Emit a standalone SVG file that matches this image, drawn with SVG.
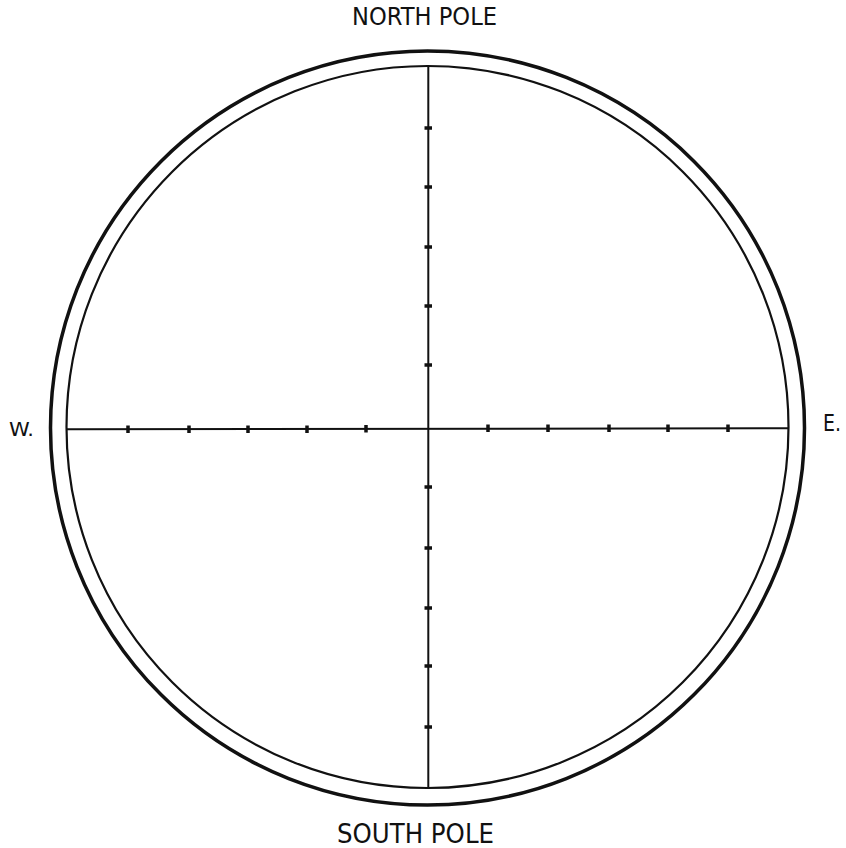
<svg xmlns="http://www.w3.org/2000/svg" width="846" height="848" viewBox="0 0 846 848">
<style>
.ring{fill:none;stroke:#111;}
.axis{stroke:#111;stroke-width:2;fill:none;}
.tick{stroke:#111;stroke-width:3.5;stroke-linecap:butt;}
.lbl{font-family:"DejaVu Sans","Liberation Sans",sans-serif;fill:#111;}
</style>
<rect width="846" height="848" fill="#fff"/>
<g id="outer-circle"><circle class="ring" cx="427.5" cy="428" r="377" stroke-width="3.5"/></g>
<g id="inner-circle"><circle class="ring" cx="427.5" cy="427" r="361" stroke-width="2.2"/></g>
<g id="connectors">
  <line id="meridian" class="axis" x1="428.3" y1="66" x2="428.3" y2="788"/>
  <line id="equator" class="axis" x1="66.5" y1="429.3" x2="789" y2="428.3"/>
</g>
<g id="ticks-vertical" class="tick">
  <line x1="424.5" y1="128" x2="432" y2="128"/>
  <line x1="424.5" y1="187" x2="432" y2="187"/>
  <line x1="424.5" y1="247" x2="432" y2="247"/>
  <line x1="424.5" y1="306" x2="432" y2="306"/>
  <line x1="424.5" y1="365" x2="432" y2="365"/>
  <line x1="424.5" y1="487" x2="432" y2="487"/>
  <line x1="424.5" y1="548" x2="432" y2="548"/>
  <line x1="424.5" y1="608" x2="432" y2="608"/>
  <line x1="424.5" y1="666" x2="432" y2="666"/>
  <line x1="424.5" y1="727" x2="432" y2="727"/>
</g>
<g id="ticks-horizontal" class="tick">
  <line x1="128" y1="425.5" x2="128" y2="433"/>
  <line x1="189" y1="425.5" x2="189" y2="433"/>
  <line x1="248" y1="425.5" x2="248" y2="433"/>
  <line x1="307" y1="425.5" x2="307" y2="433"/>
  <line x1="366" y1="425" x2="366" y2="432.5"/>
  <line x1="488" y1="424.5" x2="488" y2="432"/>
  <line x1="548" y1="424.5" x2="548" y2="432"/>
  <line x1="609" y1="424.5" x2="609" y2="432"/>
  <line x1="668" y1="424.5" x2="668" y2="432"/>
  <line x1="728" y1="424.5" x2="728" y2="432"/>
</g>
<g id="label-north"><text class="lbl" x="352" y="25" font-size="24" textLength="145" lengthAdjust="spacingAndGlyphs">NORTH POLE</text></g>
<g id="label-south"><text class="lbl" x="337" y="843" font-size="26" textLength="157" lengthAdjust="spacingAndGlyphs">SOUTH POLE</text></g>
<g id="label-west"><text class="lbl" x="9" y="436" font-size="20" textLength="25" lengthAdjust="spacingAndGlyphs">W.</text></g>
<g id="label-east"><text class="lbl" x="823" y="431" font-size="23" textLength="18" lengthAdjust="spacingAndGlyphs">E.</text></g>
</svg>
